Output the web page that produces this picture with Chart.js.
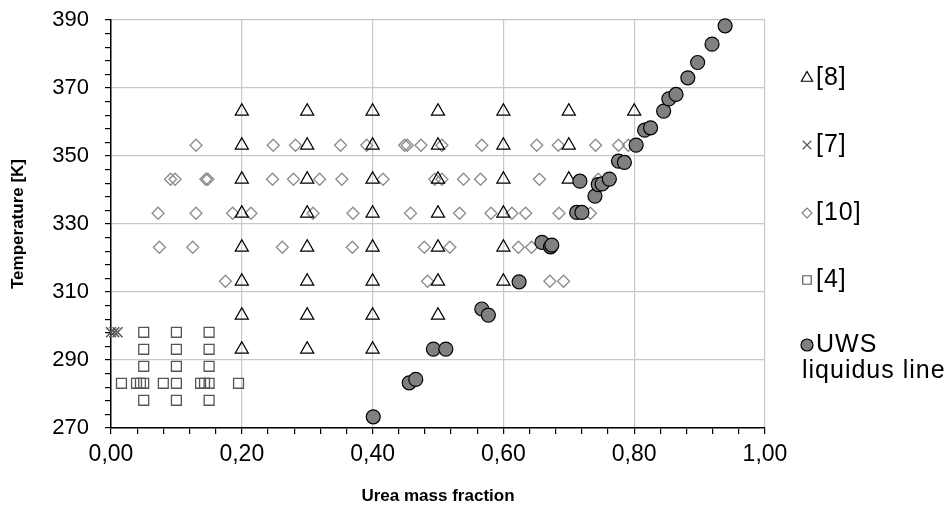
<!DOCTYPE html>
<html>
<head>
<meta charset="utf-8">
<script src="https://cdn.jsdelivr.net/npm/chart.js@4.4.1/dist/chart.umd.min.js"></script>
<style>
  html, body { margin: 0; padding: 0; background: #fff; }
  #wrap { width: 952px; height: 516px; }
</style>
</head>
<body>
<div id="wrap"><canvas id="chart" width="952" height="516"></canvas></div>
<script>
// [8] triangles
const tri8X = [
  0.2, 0.2, 0.2, 0.2, 0.2, 0.2, 0.2, 0.2,
  0.3, 0.3, 0.3, 0.3, 0.3, 0.3, 0.3, 0.3,
  0.4, 0.4, 0.4, 0.4, 0.4, 0.4, 0.4, 0.4,
  0.5, 0.5, 0.5, 0.5, 0.5, 0.5, 0.5,
  0.6, 0.6, 0.6, 0.6, 0.6, 0.6,
  0.7, 0.7, 0.7,
  0.8
];
const tri8T = [
  363.15, 353.15, 343.15, 333.15, 323.15, 313.15, 303.15, 293.15,
  363.15, 353.15, 343.15, 333.15, 323.15, 313.15, 303.15, 293.15,
  363.15, 353.15, 343.15, 333.15, 323.15, 313.15, 303.15, 293.15,
  363.15, 353.15, 343.15, 333.15, 323.15, 313.15, 303.15,
  363.15, 353.15, 343.15, 333.15, 323.15, 313.15,
  363.15, 353.15, 343.15,
  363.15
];

// [7] crosses
const cross7X = [0.000, 0.005, 0.010];
const cross7T = [298.15, 298.15, 298.15];

// [10] diamonds
const dia10X = [
  0.130, 0.248, 0.282, 0.351, 0.391, 0.449, 0.453, 0.474, 0.506, 0.567, 0.651, 0.684, 0.741, 0.776, 0.791,
  0.091, 0.098, 0.145, 0.148, 0.247, 0.279, 0.319, 0.353, 0.416, 0.495, 0.506, 0.539, 0.565, 0.655, 0.745,
  0.072, 0.130, 0.186, 0.214, 0.309, 0.370, 0.458, 0.533, 0.581, 0.613, 0.634, 0.685, 0.733,
  0.074, 0.125, 0.262, 0.369, 0.479, 0.518, 0.623, 0.643,
  0.175, 0.484, 0.671, 0.692
];
const dia10T = [
  353.15, 353.15, 353.15, 353.15, 353.15, 353.15, 353.15, 353.15, 353.15, 353.15, 353.15, 353.15, 353.15, 353.15, 353.15,
  343.15, 343.15, 343.15, 343.15, 343.15, 343.15, 343.15, 343.15, 343.15, 343.15, 343.15, 343.15, 343.15, 343.15, 343.15,
  333.15, 333.15, 333.15, 333.15, 333.15, 333.15, 333.15, 333.15, 333.15, 333.15, 333.15, 333.15, 333.15,
  323.15, 323.15, 323.15, 323.15, 323.15, 323.15, 323.15, 323.15,
  313.15, 313.15, 313.15, 313.15
];

// [4] squares
const sq4X = [
  0.05, 0.10, 0.15,
  0.05, 0.10, 0.15,
  0.05, 0.10, 0.15,
  0.016, 0.039, 0.045, 0.05, 0.08, 0.10, 0.137, 0.143, 0.15, 0.195,
  0.05, 0.10, 0.15
];
const sq4T = [
  298.15, 298.15, 298.15,
  293.15, 293.15, 293.15,
  288.15, 288.15, 288.15,
  283.15, 283.15, 283.15, 283.15, 283.15, 283.15, 283.15, 283.15, 283.15, 283.15,
  278.15, 278.15, 278.15
];

// UWS liquidus line
const uwsX = [
  0.401, 0.456, 0.466, 0.493, 0.512, 0.567, 0.577, 0.624, 0.659, 0.672,
  0.674, 0.712, 0.720, 0.717, 0.740, 0.745, 0.751, 0.762, 0.776, 0.785,
  0.803, 0.816, 0.825, 0.845, 0.853, 0.864, 0.882, 0.897, 0.919, 0.939
];
const uwsT = [
  273.3, 283.3, 284.3, 293.2, 293.2, 305.0, 303.2, 313.0, 324.6, 323.3,
  323.8, 333.4, 333.4, 342.6, 338.2, 341.6, 341.8, 343.2, 348.5, 348.1,
  353.2, 357.6, 358.3, 363.2, 366.8, 368.1, 373.0, 377.5, 382.9, 388.3
];

const xMajor = 0.2;
const yMajor = 20;
const FONT = '"Liberation Sans", Arial, sans-serif';

function pts(xs, ys) {
  return xs.map((x, i) => ({ x: x, y: ys[i] }));
}

function isMajor(v, step, base) {
  const q = (v - base) / step;
  return Math.abs(q - Math.round(q)) < 1e-6;
}

const legendItems = [
  { text: ['[8]'], y: 78, style: 'triangle', r: 6.5, fill: 'rgba(0,0,0,0)', stroke: '#000' },
  { text: ['[7]'], y: 145, style: 'crossRot', r: 6, fill: 'rgba(0,0,0,0)', stroke: '#555' },
  { text: ['[10]'], y: 213, style: 'rectRot', r: 5, fill: 'rgba(0,0,0,0)', stroke: '#808080' },
  { text: ['[4]'], y: 280, style: 'rect', r: 6, fill: 'rgba(0,0,0,0)', stroke: '#555' },
  { text: ['UWS', 'liquidus line'], y: 345, style: 'circle', r: 6, fill: '#808080', stroke: '#000' }
];

const sideLegend = {
  id: 'sideLegend',
  afterDraw(chart) {
    const ctx = chart.ctx;
    ctx.save();
    ctx.font = '25px ' + FONT;
    ctx.letterSpacing = '1px';
    ctx.textBaseline = 'middle';
    ctx.textAlign = 'left';
    legendItems.forEach(it => {
      ctx.fillStyle = it.fill;
      ctx.strokeStyle = it.stroke;
      ctx.lineWidth = 1.2;
      Chart.helpers.drawPoint(ctx, { pointStyle: it.style, radius: it.r, rotation: 0, borderWidth: 1.2 }, 807, it.y);
      ctx.fillStyle = '#000';
      ctx.fillText(it.text[0], 816, it.y);
      if (it.text[1]) ctx.fillText(it.text[1], 802, it.y + 26);
    });
    ctx.restore();
  }
};

Chart.defaults.font.family = FONT;
Chart.defaults.font.size = 23;
Chart.defaults.color = '#000';

const ctx = document.getElementById('chart').getContext('2d');
new Chart(ctx, {
  type: 'scatter',
  data: {
    datasets: [
      {
        label: 'UWS liquidus line',
        data: pts(uwsX, uwsT),
        pointStyle: 'circle',
        pointRadius: 7,
        backgroundColor: '#808080',
        borderColor: '#000',
        borderWidth: 1.2,
        order: 0,
        clip: false
      },
      {
        label: '[8]',
        data: pts(tri8X, tri8T),
        pointStyle: 'triangle',
        pointRadius: 7.5,
        backgroundColor: 'rgba(0,0,0,0)',
        borderColor: '#000',
        borderWidth: 1.3,
        order: 1,
        clip: false
      },
      {
        label: '[10]',
        data: pts(dia10X, dia10T),
        pointStyle: 'rectRot',
        pointRadius: 6,
        backgroundColor: 'rgba(0,0,0,0)',
        borderColor: '#8c8c8c',
        borderWidth: 1.3,
        order: 2,
        clip: false
      },
      {
        label: '[4]',
        data: pts(sq4X, sq4T),
        pointStyle: 'rect',
        pointRadius: 7,
        backgroundColor: 'rgba(0,0,0,0)',
        borderColor: '#555',
        borderWidth: 1.3,
        order: 3,
        clip: false
      },
      {
        label: '[7]',
        data: pts(cross7X, cross7T),
        pointStyle: 'crossRot',
        pointRadius: 7,
        backgroundColor: 'rgba(0,0,0,0)',
        borderColor: '#555',
        borderWidth: 1.5,
        order: 4,
        clip: false
      }
    ]
  },
  options: {
    responsive: false,
    animation: false,
    layout: { padding: { left: 0, top: 20, right: 187, bottom: 0 } },
    plugins: {
      legend: { display: false },
      tooltip: { enabled: false }
    },
    scales: {
      x: {
        type: 'linear',
        min: 0,
        max: 1,
        afterFit: s => { s.height = 88; s.paddingLeft = 0; s.paddingRight = 0; },
        border: { color: '#000', width: 1.5 },
        grid: {
          color: c => isMajor(c.tick.value, xMajor, 0) ? '#c8c8c8' : 'rgba(0,0,0,0)',
          tickColor: '#000',
          tickLength: 6,
          lineWidth: 1.2
        },
        ticks: {
          stepSize: 0.04,
          autoSkip: false,
          maxRotation: 0,
          padding: 7,
          callback: v => isMajor(v, xMajor, 0) ? v.toFixed(2).replace('.', ',') : ''
        },
        title: {
          display: true,
          text: 'Urea mass fraction',
          font: { weight: 'bold', size: 17 },
          padding: { top: 0, bottom: 9 }
        }
      },
      y: {
        type: 'linear',
        min: 270,
        max: 390,
        afterFit: s => { s.width = 111; s.paddingTop = 0; s.paddingBottom = 0; },
        border: { color: '#000', width: 1.5 },
        grid: {
          color: c => isMajor(c.tick.value, yMajor, 270) ? '#c8c8c8' : 'rgba(0,0,0,0)',
          tickColor: '#000',
          tickLength: 6,
          lineWidth: 1.2
        },
        ticks: {
          stepSize: 4,
          autoSkip: false,
          padding: 16,
          font: { size: 22 },
          callback: v => isMajor(v, yMajor, 270) ? String(v) : ''
        },
        title: {
          display: true,
          text: 'Temperature [K]',
          font: { weight: 'bold', size: 17 },
          padding: { top: 8, bottom: 0 }
        }
      }
    }
  },
  plugins: [sideLegend]
});
</script>
</body>
</html>
